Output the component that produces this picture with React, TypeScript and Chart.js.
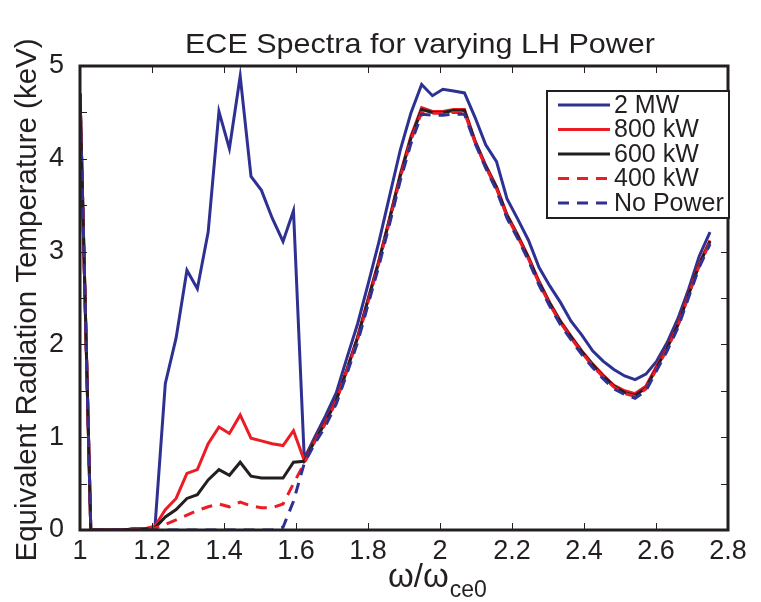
import React, { useEffect, useRef } from "react";
import { Chart, registerables } from "chart.js";

Chart.register(...registerables);

// ---- data ----
const omega = [
  1.0, 1.03, 1.059, 1.089, 1.119, 1.148, 1.178, 1.208, 1.237, 1.267,
  1.297, 1.326, 1.356, 1.386, 1.415, 1.445, 1.475, 1.504, 1.534, 1.564,
  1.593, 1.623, 1.652, 1.682, 1.712, 1.741, 1.771, 1.801, 1.83, 1.86,
  1.89, 1.919, 1.949, 1.979, 2.008, 2.038, 2.068, 2.097, 2.127, 2.157,
  2.186, 2.216, 2.246, 2.275, 2.305, 2.335, 2.364, 2.394, 2.424, 2.453,
  2.483, 2.513, 2.542, 2.572, 2.602, 2.631, 2.661, 2.691, 2.72, 2.75,
];

const p2MW = [
  4.7, 0, 0, 0, 0, 0.01, 0.01, 0.02, 1.58, 2.07,
  2.8, 2.6, 3.21, 4.51, 4.11, 4.89, 3.81, 3.66, 3.36, 3.11,
  3.44, 0.77, 1.0, 1.23, 1.48, 1.85, 2.22, 2.66, 3.1, 3.6,
  4.1, 4.49, 4.8, 4.68, 4.75, 4.73, 4.71, 4.45, 4.15, 3.97,
  3.57, 3.35, 3.12, 2.83, 2.63, 2.45, 2.25, 2.1, 1.93, 1.82,
  1.73, 1.66, 1.62, 1.68, 1.82, 2.02, 2.28, 2.6, 2.95, 3.21,
];

const p800kW = [
  4.7, 0, 0, 0, 0, 0.01, 0.01, 0.04, 0.22, 0.34,
  0.61, 0.65, 0.93, 1.11, 1.04, 1.24, 0.99, 0.96, 0.93, 0.91,
  1.07, 0.75, 0.97, 1.17, 1.41, 1.73, 2.08, 2.5, 2.9, 3.36,
  3.84, 4.24, 4.55, 4.51, 4.51, 4.53, 4.53, 4.2, 3.93, 3.7,
  3.4, 3.18, 2.94, 2.68, 2.45, 2.25, 2.09, 1.93, 1.79, 1.67,
  1.56, 1.5, 1.47, 1.55, 1.77, 1.97, 2.22, 2.55, 2.87, 3.12,
];

const p600kW = [
  4.7, 0, 0, 0, 0, 0.01, 0.01, 0.02, 0.14, 0.22,
  0.34, 0.38, 0.54, 0.65, 0.59, 0.73, 0.58, 0.56, 0.56, 0.56,
  0.73, 0.74, 0.96, 1.16, 1.4, 1.72, 2.07, 2.49, 2.89, 3.35,
  3.82, 4.22, 4.53, 4.5, 4.5, 4.52, 4.52, 4.19, 3.92, 3.69,
  3.39, 3.17, 2.93, 2.67, 2.44, 2.24, 2.08, 1.92, 1.78, 1.66,
  1.55, 1.48, 1.45, 1.53, 1.75, 1.96, 2.21, 2.54, 2.86, 3.11,
];

const p400kW = [
  4.7, 0, 0, 0, 0, 0.01, 0.01, 0.02, 0.06, 0.11,
  0.16, 0.21, 0.25, 0.28, 0.25, 0.3, 0.26, 0.24, 0.24, 0.28,
  0.5, 0.72, 0.95, 1.15, 1.39, 1.71, 2.05, 2.47, 2.87, 3.33,
  3.8, 4.2, 4.5, 4.49, 4.49, 4.5, 4.5, 4.18, 3.91, 3.68,
  3.38, 3.16, 2.92, 2.66, 2.43, 2.23, 2.07, 1.91, 1.77, 1.65,
  1.54, 1.47, 1.44, 1.52, 1.74, 1.95, 2.2, 2.53, 2.85, 3.1,
];

const pNoPower = [
  4.7, 0, 0, 0, 0, 0, 0, 0, 0, 0,
  0, 0, 0, 0, 0, 0, 0, 0, 0, 0.03,
  0.31, 0.72, 0.93, 1.12, 1.36, 1.68, 2.02, 2.44, 2.84, 3.3,
  3.77, 4.16, 4.48, 4.47, 4.47, 4.48, 4.48, 4.17, 3.9, 3.66,
  3.36, 3.14, 2.9, 2.64, 2.41, 2.21, 2.05, 1.89, 1.75, 1.63,
  1.52, 1.46, 1.42, 1.5, 1.72, 1.93, 2.18, 2.51, 2.83, 3.08,
];

const seriesLabels = ["2 MW", "800 kW", "600 kW", "400 kW", "No Power"];
const xTickLabels = ["1", "1.2", "1.4", "1.6", "1.8", "2", "2.2", "2.4", "2.6", "2.8"];
const yTickValues = [0, 0.5, 1, 1.5, 2, 2.5, 3, 3.5, 4, 4.5, 5];
const yTickLabels = ["0", "1", "2", "3", "4", "5"];
const titleText = "ECE Spectra for varying LH Power";
const yTitleText = "Equivalent Radiation Temperature (keV)";
const xTitleMain = "\u03c9/\u03c9";
const xTitleSub = "ce0";

// ---- styles ----
const BLUE = "#2e3192";
const RED = "#ed1c24";
const BLACK = "#231f20";
const FONT = "'Liberation Sans', Arial, Helvetica, sans-serif";
const DASH = [11, 8];

const seriesStyles = [
  { color: BLUE, dash: [] as number[] },
  { color: RED, dash: [] as number[] },
  { color: BLACK, dash: [] as number[] },
  { color: RED, dash: DASH },
  { color: BLUE, dash: DASH },
];

const decorPlugin = {
  id: "decor",
  afterDraw(chart: any) {
    const { ctx, chartArea } = chart;
    const { left, right, top, bottom } = chartArea;
    ctx.save();

    // inward tick marks
    ctx.strokeStyle = BLACK;
    ctx.lineWidth = 1;
    const xs = chart.scales.x;
    const ys = chart.scales.y;
    const tl = 7;
    ctx.beginPath();
    xs.ticks.forEach((t: any) => {
      const px = Math.round(xs.getPixelForValue(t.value)) + 0.5;
      ctx.moveTo(px, bottom);
      ctx.lineTo(px, bottom - tl);
      ctx.moveTo(px, top);
      ctx.lineTo(px, top + tl);
    });
    ys.ticks.forEach((t: any) => {
      const py = Math.round(ys.getPixelForValue(t.value)) + 0.5;
      ctx.moveTo(left, py);
      ctx.lineTo(left + tl, py);
      ctx.moveTo(right, py);
      ctx.lineTo(right - tl, py);
    });
    ctx.stroke();

    // frame
    ctx.lineWidth = 3;
    ctx.strokeRect(left, top, right - left, bottom - top);

    // title
    ctx.fillStyle = BLACK;
    ctx.font = `28px ${FONT}`;
    ctx.textBaseline = "alphabetic";
    ctx.textAlign = "center";
    const tw = ctx.measureText(titleText).width;
    ctx.save();
    ctx.translate(420, 53);
    ctx.scale(470 / tw, 1);
    ctx.fillText(titleText, 0, 0);
    ctx.restore();

    // y title
    ctx.save();
    ctx.font = `29.5px ${FONT}`;
    ctx.translate(36, 300);
    ctx.rotate(-Math.PI / 2);
    ctx.textAlign = "center";
    ctx.fillText(yTitleText, 0, 0);
    ctx.restore();

    // x title with subscript
    ctx.textAlign = "left";
    ctx.font = `33px ${FONT}`;
    const wMain = ctx.measureText(xTitleMain).width;
    ctx.font = `23px ${FONT}`;
    const wSub = ctx.measureText(xTitleSub).width;
    const x0 = 437 - (wMain + wSub) / 2;
    ctx.font = `33px ${FONT}`;
    ctx.fillText(xTitleMain, x0, 587);
    ctx.font = `23px ${FONT}`;
    ctx.fillText(xTitleSub, x0 + wMain + 1, 597);

    // legend
    const lx = 547, ly = 91, lw = 182, lh = 127;
    ctx.fillStyle = "#ffffff";
    ctx.fillRect(lx, ly, lw, lh);
    ctx.strokeStyle = BLACK;
    ctx.lineWidth = 2;
    ctx.strokeRect(lx, ly, lw, lh);
    const rows = [105, 129.5, 154, 178.5, 203];
    seriesLabels.forEach((lab, i) => {
      const st = seriesStyles[i];
      ctx.strokeStyle = st.color;
      ctx.lineWidth = 3;
      ctx.setLineDash(st.dash);
      ctx.beginPath();
      ctx.moveTo(558, rows[i]);
      ctx.lineTo(610, rows[i]);
      ctx.stroke();
      ctx.setLineDash([]);
      ctx.fillStyle = BLACK;
      ctx.font = `25px ${FONT}`;
      ctx.textBaseline = "middle";
      ctx.textAlign = "left";
      ctx.fillText(lab, 614, rows[i] + 1);
    });

    ctx.restore();
  },
};

export default function App() {
  const ref = useRef<HTMLCanvasElement | null>(null);

  useEffect(() => {
    if (!ref.current) return;
    const seriesValues = [p2MW, p800kW, p600kW, p400kW, pNoPower];
    const datasets = seriesValues.map((vals, i) => ({
      label: seriesLabels[i],
      data: omega.map((x, j) => ({ x, y: vals[j] })),
      borderColor: seriesStyles[i].color,
      backgroundColor: seriesStyles[i].color,
      borderWidth: 3,
      borderDash: seriesStyles[i].dash,
      pointRadius: 0,
      tension: 0,
      fill: false,
      order: 5 - i,
    }));

    const chart = new Chart(ref.current, {
      type: "line",
      data: { datasets },
      options: {
        responsive: false,
        animation: false,
        layout: { padding: { left: 0, right: 33, top: 66, bottom: 0 } },
        plugins: {
          legend: { display: false },
          title: { display: false },
          tooltip: { enabled: false },
        },
        scales: {
          x: {
            type: "linear",
            min: 1,
            max: 2.8,
            afterBuildTicks: (scale: any) => {
              scale.ticks = xTickLabels.map((l) => ({ value: Number(l) }));
            },
            afterFit: (scale: any) => {
              scale.height = 72;
            },
            grid: { display: false },
            border: { display: false },
            ticks: {
              autoSkip: false,
              maxRotation: 0,
              padding: -3,
              color: BLACK,
              font: { family: FONT, size: 27 },
              callback: (_v: any, idx: number) => xTickLabels[idx],
            },
          },
          y: {
            type: "linear",
            min: 0,
            max: 5,
            afterBuildTicks: (scale: any) => {
              scale.ticks = yTickValues.map((v) => ({ value: v }));
            },
            afterFit: (scale: any) => {
              scale.width = 80;
            },
            grid: { display: false },
            border: { display: false },
            ticks: {
              autoSkip: false,
              padding: 8,
              color: BLACK,
              font: { family: FONT, size: 27 },
              callback: (v: any) => {
                const s = String(v);
                return yTickLabels.includes(s) ? s : "";
              },
            },
          },
        },
      },
      plugins: [decorPlugin],
    });

    return () => chart.destroy();
  }, []);

  return (
    <div
      style={{
        position: "absolute",
        left: 0,
        top: 0,
        width: 761,
        height: 602,
        background: "#ffffff",
      }}
    >
      <canvas
        ref={ref}
        width={761}
        height={602}
        style={{ display: "block", width: 761, height: 602 }}
      />
    </div>
  );
}
